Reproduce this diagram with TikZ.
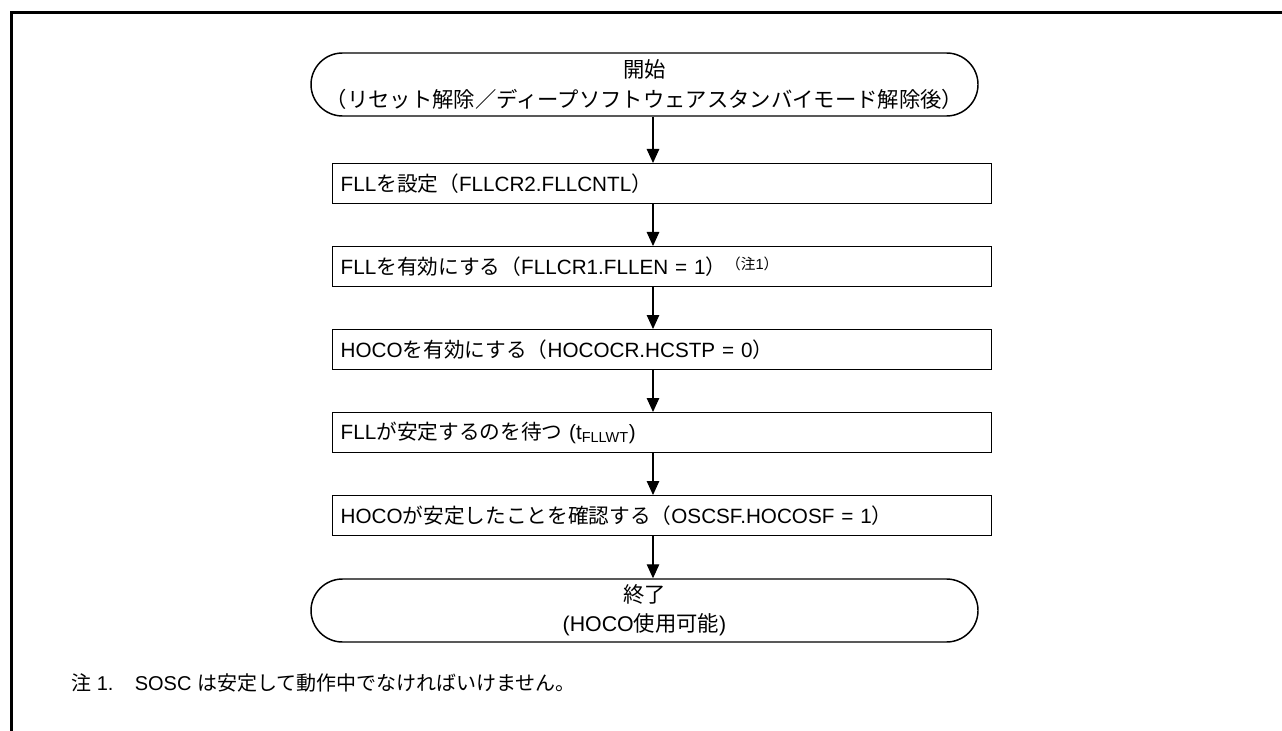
\documentclass[tikz,border=0pt]{standalone}
\usepackage{fontspec}
\setmainfont{Liberation Sans}
\newfontfamily\jpfont{Noto Sans CJK JP}
\newcommand{\jp}[1]{{\jpfont #1}}
\usetikzlibrary{arrows.meta,shapes.misc}

\begin{document}
\begin{tikzpicture}[x=0.75pt,y=-0.75pt,>={Triangle[width=9.4pt,length=10.5pt]},
  font=\fontsize{15.5}{19}\selectfont,
  term/.style={draw,line width=1.1pt,rounded rectangle,minimum width=500.25pt,minimum height=47.25pt,align=center,inner sep=0pt,font=\fontsize{16}{22}\selectfont},
  stepbox/.style={draw,line width=1.1pt,anchor=north west,minimum height=30pt,text width=482.25pt,inner xsep=6pt,align=left},
  flow/.style={->,line width=0.8pt}]
\useasboundingbox (0,0) rectangle (1282,731);
% frame
\draw[line width=2.25pt] (11,731) -- (11,13) -- (1282,13);
\coordinate (axis) at (653,0);
\node[term] (start) at (644.5,84.5) {\jp{開始}\\\jp{（リセット解除／ディープソフトウェアスタンバイモード解除後）}};
\node[stepbox] (s1) at (332,163) {FLL\jp{を設定（}FLLCR2.FLLCNTL\jp{）}};
\node[stepbox] (s2) at (332,246) {FLL\jp{を有効にする（}FLLCR1.FLLEN = 1\jp{）}\raisebox{0.5ex}{\fontsize{11}{12}\selectfont\jp{（注}1\jp{）}}};
\node[stepbox] (s3) at (332,329) {HOCO\jp{を有効にする（}HOCOCR.HCSTP = 0\jp{）}};
\node[stepbox] (s4) at (332,412) {FLL\jp{が安定するのを待つ} (t\textsubscript{FLLWT})};
\node[stepbox] (s5) at (332,495) {HOCO\jp{が安定したことを確認する（}OSCSF.HOCOSF = 1\jp{）}};
\node[term] (stop) at (644.5,610.5) {\jp{終了}\\(HOCO\jp{使用可能})};
\draw[flow] (start.south -| axis) -- (s1.north -| axis);
\draw[flow] (s1.south -| axis) -- (s2.north -| axis);
\draw[flow] (s2.south -| axis) -- (s3.north -| axis);
\draw[flow] (s3.south -| axis) -- (s4.north -| axis);
\draw[flow] (s4.south -| axis) -- (s5.north -| axis);
\draw[flow] (s5.south -| axis) -- (stop.north -| axis);
% note
\node[anchor=base west,inner sep=0pt,font=\fontsize{15}{18}\selectfont] (note) at (71,690) {\jp{注} 1.\hspace{16pt}SOSC \jp{は安定して動作中でなければいけません。}};
\end{tikzpicture}
\end{document}
